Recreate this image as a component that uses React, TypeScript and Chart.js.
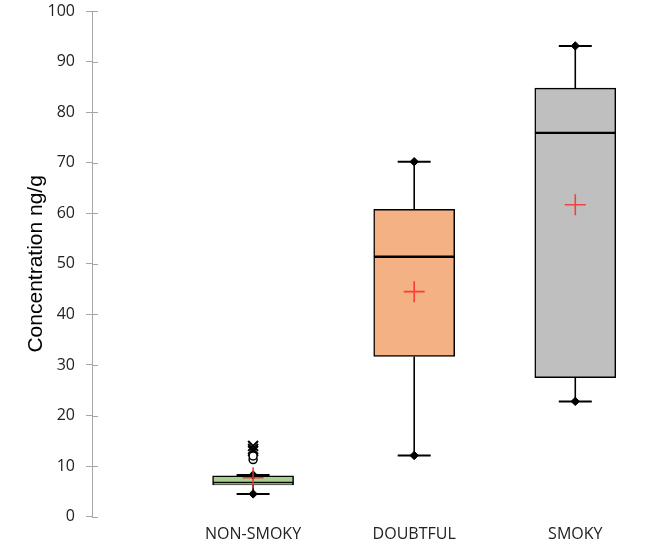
import React, { useEffect, useRef } from 'react';
import { Chart, registerables } from 'chart.js';

Chart.register(...registerables);

// ---- data ----
const CATEGORIES = ['NON-SMOKY', 'DOUBTFUL', 'SMOKY'];
const MINS = [4.5, 12.1, 22.8];
const Q1S = [6.3, 31.7, 27.5];
const MEDIANS = [6.7, 51.4, 75.9];
const Q3S = [8.1, 60.8, 84.75];
const MAXS = [8.25, 70.2, 93.1];
const MEANS = [7.7, 44.5, 61.7];
const BOX_COLORS = ['#a9d18e', '#f4b183', '#bfbfbf'];
// outliers of the NON-SMOKY group
const MILD_OUTLIERS = [11.3, 12.0];
const EXTREME_OUTLIERS = [13.0, 13.4, 14.0];
const Y_MIN = 0;
const Y_MAX = 100;
const Y_STEP = 10;

const AXIS_GRAY = '#a6a6a6';
const TEXT = '#222222';

const crossTicks = {
  id: 'crossTicks',
  beforeDatasetsDraw(chart: any) {
    const ys = chart.scales.y;
    const ctx = chart.ctx;
    ctx.save();
    ctx.strokeStyle = AXIS_GRAY;
    ctx.lineWidth = 1;
    ys.ticks.forEach((t: any) => {
      const py = Math.round(ys.getPixelForValue(t.value)) + 0.5;
      ctx.beginPath();
      ctx.moveTo(ys.right, py);
      ctx.lineTo(ys.right + 6, py);
      ctx.stroke();
    });
    ctx.restore();
  },
};

export default function App() {
  const ref = useRef<HTMLCanvasElement | null>(null);

  useEffect(() => {
    if (!ref.current) return;
    const pos = CATEGORIES.map((_, i) => i + 1);

    const whiskerData: any[] = [];
    pos.forEach((x, i) => {
      whiskerData.push({ x, y: MAXS[i] }, { x, y: Q3S[i] }, { x, y: null });
      whiskerData.push({ x, y: Q1S[i] }, { x, y: MINS[i] }, { x, y: null });
    });
    const capData: any[] = [];
    pos.forEach((x, i) => {
      capData.push({ x, y: MAXS[i] }, { x, y: MINS[i] });
    });

    const chart = new Chart(ref.current, {
      type: 'bar',
      data: {
        datasets: [
          {
            type: 'bar',
            data: pos.map((x, i) => ({ x, y: [Q1S[i], MEDIANS[i]] })),
            backgroundColor: BOX_COLORS,
            borderColor: '#000000',
            borderWidth: 1.5,
            borderSkipped: false,
            barThickness: 81,
            grouped: false,
            order: 5,
          } as any,
          {
            type: 'bar',
            data: pos.map((x, i) => ({ x, y: [MEDIANS[i], Q3S[i]] })),
            backgroundColor: BOX_COLORS,
            borderColor: '#000000',
            borderWidth: 1.5,
            borderSkipped: false,
            barThickness: 81,
            grouped: false,
            order: 5,
          } as any,
          {
            type: 'line',
            data: whiskerData,
            borderColor: '#000000',
            borderWidth: 1.6,
            pointRadius: 0,
            spanGaps: false,
            order: 6,
          } as any,
          {
            type: 'scatter',
            data: capData,
            pointStyle: 'line',
            pointRadius: 16.5,
            borderColor: '#000000',
            pointBorderWidth: 2,
            borderWidth: 2,
            order: 4,
          } as any,
          {
            type: 'scatter',
            data: capData,
            pointStyle: 'rectRot',
            pointRadius: 4.2,
            backgroundColor: '#000000',
            borderColor: '#000000',
            borderWidth: 1,
            order: 3,
          } as any,
          {
            type: 'scatter',
            data: pos.map((x, i) => ({ x, y: MEANS[i] })),
            pointStyle: 'cross',
            pointRadius: 10.5,
            borderColor: 'rgba(255,40,40,0.85)',
            borderWidth: 1.6,
            order: 1,
          } as any,
          {
            type: 'scatter',
            data: MILD_OUTLIERS.map((y) => ({ x: 1, y })),
            pointStyle: 'circle',
            pointRadius: 4,
            backgroundColor: '#ffffff',
            borderColor: '#000000',
            borderWidth: 1.5,
            order: 2,
          } as any,
          {
            type: 'scatter',
            data: EXTREME_OUTLIERS.map((y) => ({ x: 1, y })),
            pointStyle: 'crossRot',
            pointRadius: 7,
            borderColor: '#000000',
            borderWidth: 2,
            order: 2,
          } as any,
        ],
      },
      options: {
        responsive: false,
        animation: false,
        events: [],
        layout: { padding: 0, autoPadding: false },
        plugins: {
          legend: { display: false },
          tooltip: { enabled: false },
        },
        scales: {
          x: {
            type: 'linear',
            min: 0,
            max: 3.47,
            offset: false,
            grid: { display: false, offset: false },
            border: { display: false },
            afterBuildTicks: (scale: any) => {
              scale.ticks = CATEGORIES.map((_, i) => ({ value: i + 1 }));
            },
            afterFit: (scale: any) => {
              scale.height = 29.3;
              scale.paddingLeft = 0;
              scale.paddingRight = 0;
            },
            ticks: {
              autoSkip: false,
              maxRotation: 0,
              padding: 0,
              color: TEXT,
              font: { family: '"Open Sans"', size: 16 },
              callback: (v: any) => CATEGORIES[Math.round(Number(v)) - 1] ?? '',
            },
          },
          y: {
            type: 'linear',
            min: Y_MIN,
            max: Y_MAX,
            afterFit: (scale: any) => {
              scale.width = 92;
              scale.paddingTop = 11;
              scale.paddingBottom = 0;
            },
            ticks: {
              stepSize: Y_STEP,
              padding: 11,
              color: TEXT,
              font: { family: '"Open Sans"', size: 16 },
            },
            grid: {
              drawOnChartArea: false,
              drawTicks: true,
              tickLength: 6,
              color: AXIS_GRAY,
              lineWidth: 1,
            },
            border: { display: true, color: AXIS_GRAY, width: 1 },
            title: {
              display: true,
              text: 'Concentration ng/g',
              color: '#000000',
              font: { family: '"Liberation Sans"', size: 21 },
              padding: { top: 24, bottom: 0 },
            },
          },
        },
      },
      plugins: [crossTicks],
    } as any);
    return () => chart.destroy();
  }, []);

  return (
    <div style={{ position: 'absolute', left: 0, top: 0, width: 651, height: 546 }}>
      <canvas ref={ref} width={651} height={546} />
    </div>
  );
}
